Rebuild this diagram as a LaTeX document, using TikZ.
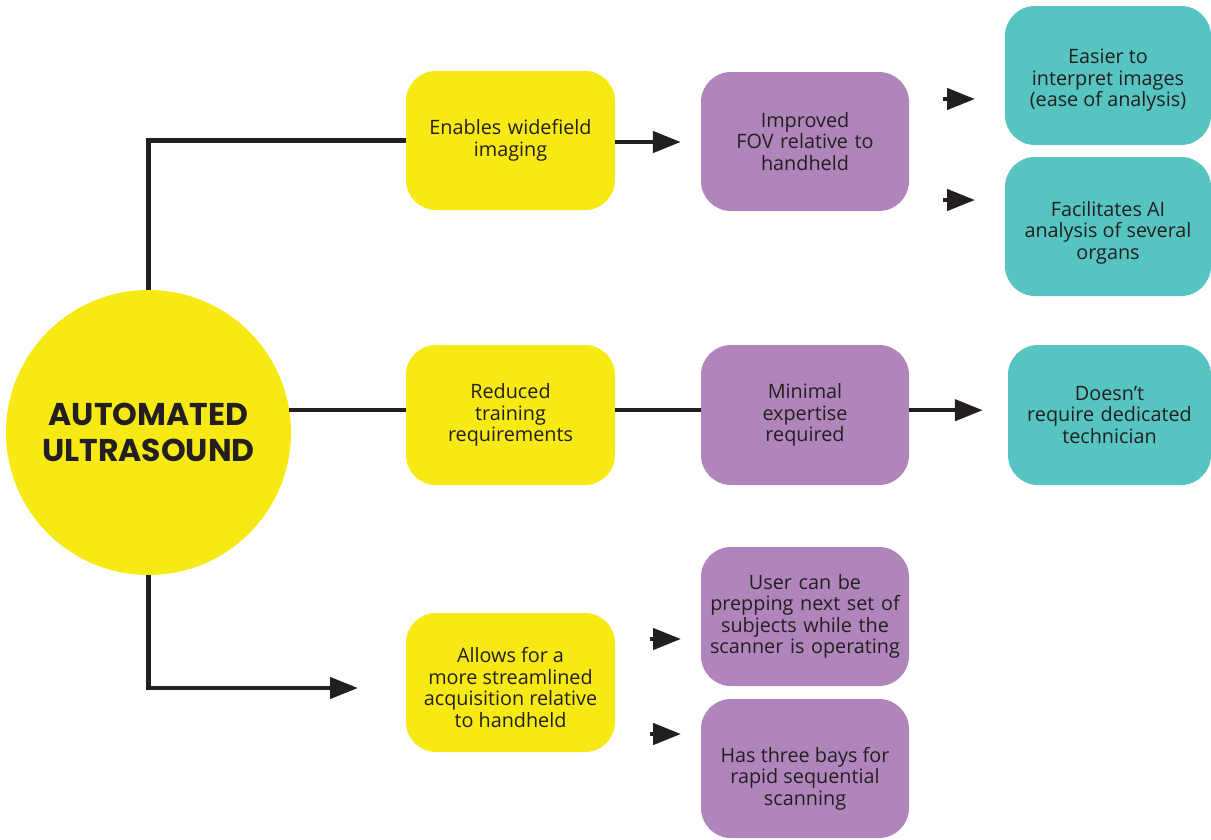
\documentclass[tikz,border=0pt]{standalone}
\usepackage{fontspec}
\setmainfont{Open Sans}
\newfontfamily\titlefont{Poppins}
\usetikzlibrary{arrows.meta}
\definecolor{yel}{HTML}{F7EA14}
\definecolor{pur}{HTML}{B085BB}
\definecolor{tea}{HTML}{56C4C1}
\definecolor{ink}{HTML}{231F20}
\tikzset{
  txt/.style={align=center, text=ink, font=\fontsize{19.8}{21.5}\selectfont, inner sep=0pt},
  box/.style={rounded corners=30pt, inner sep=4pt, txt, text width=200pt},
  ybox/.style={box, fill=yel, minimum width=209pt, minimum height=139pt},
  pbox/.style={box, fill=pur, minimum width=208pt, minimum height=139pt},
  tbox/.style={box, fill=tea, minimum width=206pt, minimum height=139pt},
  conn/.style={draw=ink, line width=4.5pt},
  arr/.style={conn, -{Triangle[length=28pt,width=21pt]}},
}
\begin{document}
\begin{tikzpicture}[x=1pt,y=-1pt]
\useasboundingbox (0,0) rectangle (1211,839);
% central circle
\node[circle, fill=yel, minimum size=285pt, inner sep=0pt, align=center, text=ink,
  font=\titlefont\bfseries\fontsize{31.5}{36}\selectfont] (hub) at (148.5,432.5) {AUTOMATED\\ULTRASOUND};
% yellow
\node[ybox] (y1) at (510.5,140.5) {Enables widefield\\imaging};
\node[ybox, minimum height=140pt] (y2) at (510.5,415) {Reduced\\training\\requirements};
\node[ybox, label={[txt, yshift=-5pt]center:Allows for a\\more streamlined\\acquisition relative\\to handheld}] (y3) at (510.5,682.5) {};
% purple
\node[pbox] (p1) at (805,141.5) {Improved\\FOV relative to\\handheld};
\node[pbox, minimum height=140pt] (p2) at (805,415) {Minimal\\expertise\\required};
\node[pbox] (p3) at (805,616.5) {User can be\\prepping next set of\\subjects while the\\scanner is operating};
\node[pbox, label={[txt, yshift=-10pt]center:Has three bays for\\rapid sequential\\scanning}] (p4) at (805,768.5) {};
% teal
\node[tbox, label={[txt, yshift=-5pt]center:Easier to\\interpret images\\(ease of analysis)}] (t1) at (1108,75.5) {};
\node[tbox, label={[txt, yshift=-6pt]center:Facilitates AI\\analysis of several\\organs}] (t2) at (1108,226.5) {};
\node[tbox, minimum width=203pt, minimum height=140pt] (t3) at (1109.5,415) {Doesn’t\\require dedicated\\technician};
% connectors
\draw[conn] (hub.north) |- (y1.west);
\draw[conn] (hub.9) -- (hub.9 -| y2.west);
\draw[conn] (hub.9 -| y2.east) -- (hub.9 -| p2.west);
\coordinate (b3) at (358,688);
\draw[arr] (hub.south) |- (b3);
\draw[arr, shorten >=20pt] (y1.east |- 0,142) -- (p1.west |- 0,142);
\draw[arr, shorten >=25pt] (hub.9 -| p2.east) -- (hub.9 -| t3.west);
% short floating arrows
\coordinate (s1a) at (943,99);  \coordinate (s1b) at (975,99);
\coordinate (s2a) at (943,200); \coordinate (s2b) at (975,200);
\coordinate (s3a) at (650,639); \coordinate (s3b) at (681,639);
\coordinate (s4a) at (650,734); \coordinate (s4b) at (681,734);
\draw[arr] (s1a) -- (s1b);
\draw[arr] (s2a) -- (s2b);
\draw[arr] (s3a) -- (s3b);
\draw[arr] (s4a) -- (s4b);
\end{tikzpicture}
\end{document}
